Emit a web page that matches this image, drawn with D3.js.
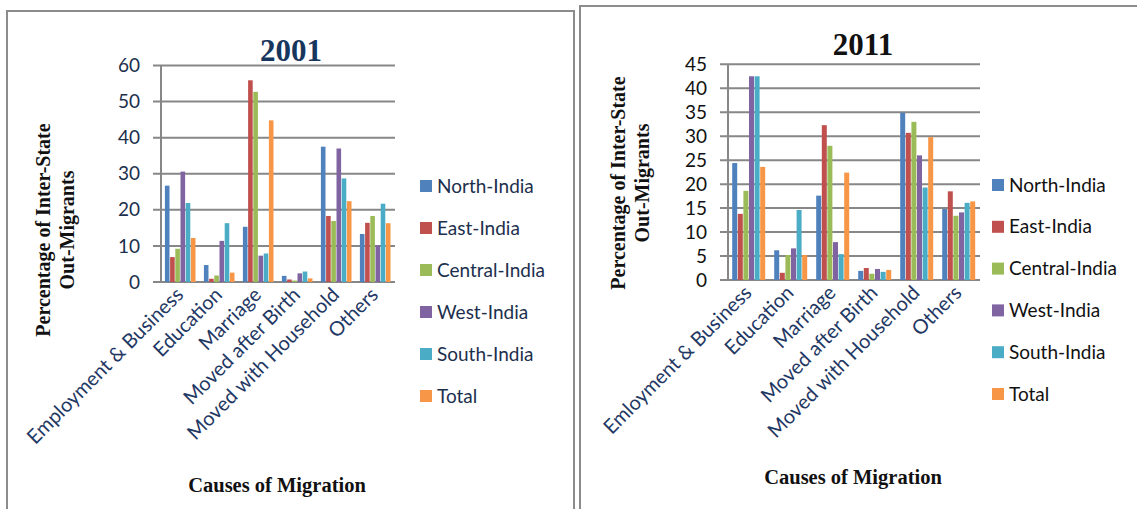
<!DOCTYPE html>
<html>
<head>
<meta charset="utf-8">
<script src="https://cdn.jsdelivr.net/npm/d3@7/dist/d3.min.js"></script>
<style>
  html, body { margin: 0; padding: 0; background: #fff; }
  svg { display: block; }
</style>
</head>
<body>
<svg id="chart" width="1137" height="509"></svg>
<script>
// Series (regions) shared by both census panels
const seriesNames = ["North-India", "East-India", "Central-India", "West-India", "South-India", "Total"];
const seriesColors = ["#4F81BD", "#C0504D", "#9BBB59", "#8064A2", "#4BACC6", "#F79646"];

// Causes of migration
const causes2001 = ["Employment & Business", "Education", "Marriage", "Moved after Birth", "Moved with Household", "Others"];
const causes2011 = ["Emloyment & Business", "Education", "Marriage", "Moved after Birth", "Moved with Household", "Others"];

// Percentage of inter-state out-migrants, 2001 (one array per region)
const north2001   = [26.7, 4.7, 15.3, 1.7, 37.5, 13.3];
const east2001    = [6.9, 0.9, 55.9, 0.7, 18.3, 16.4];
const central2001 = [9.2, 1.8, 52.7, 0.4, 16.9, 18.3];
const west2001    = [30.6, 11.4, 7.3, 2.4, 37.0, 10.2];
const south2001   = [21.9, 16.3, 7.9, 2.9, 28.7, 21.7];
const total2001   = [12.2, 2.6, 44.8, 1.0, 22.4, 16.3];

// Percentage of inter-state out-migrants, 2011
const north2011   = [24.4, 6.2, 17.6, 1.9, 34.9, 14.8];
const east2011    = [13.8, 1.5, 32.3, 2.5, 30.7, 18.5];
const central2011 = [18.6, 5.2, 28.0, 1.3, 33.0, 13.4];
const west2011    = [42.5, 6.6, 7.9, 2.3, 26.0, 14.1];
const south2011   = [42.5, 14.6, 5.4, 1.7, 19.3, 16.1];
const total2011   = [23.6, 5.2, 22.4, 2.1, 29.8, 16.4];

// Axis ticks
const ticks2001 = [0, 10, 20, 30, 40, 50, 60];
const ticks2011 = [0, 5, 10, 15, 20, 25, 30, 35, 40, 45];

const svg = d3.select("#chart");
const GRID = "#878787";
const SANS = "Lato, 'Open Sans', sans-serif";
const SERIF = "'Liberation Serif', 'Times New Roman', serif";

// Panel frames
svg.append("rect").attr("x", 7).attr("y", 11).attr("width", 567).attr("height", 540)
  .attr("fill", "none").attr("stroke", "#8c8c8c").attr("stroke-width", 2);
svg.append("rect").attr("x", 580).attr("y", 6).attr("width", 600).attr("height", 540)
  .attr("fill", "none").attr("stroke", "#8c8c8c").attr("stroke-width", 2);

function drawPanel(p) {
  const g = svg.append("g");
  const series = [p.north, p.east, p.central, p.west, p.south, p.total];

  const x = d3.scaleBand().domain(p.causes).range([p.left, p.right])
    .paddingInner(0.2).paddingOuter(0.1);
  const xs = d3.scaleBand().domain(d3.range(seriesNames.length)).range([0, x.bandwidth()]);
  const y = d3.scaleLinear().domain([0, p.max]).range([p.bottom, p.top]);

  // horizontal gridlines with left tick stubs
  g.append("g").selectAll("line").data(p.ticks).join("line")
    .attr("x1", p.left - 8).attr("x2", p.right)
    .attr("y1", d => y(d)).attr("y2", d => y(d))
    .attr("stroke", GRID).attr("stroke-width", 2);

  // value axis line + labels
  g.append("line").attr("x1", p.left).attr("x2", p.left)
    .attr("y1", y(p.max)).attr("y2", y(0))
    .attr("stroke", GRID).attr("stroke-width", 2);

  const yAxis = d3.axisLeft(y).tickValues(p.ticks).tickSize(0).tickPadding(p.tickPad);
  const ya = g.append("g").attr("transform", `translate(${p.left},0)`).call(yAxis);
  ya.select(".domain").remove();
  ya.selectAll("text").attr("font-family", SANS).attr("font-size", p.tickSize)
    .attr("fill", p.textColor);

  // bars
  seriesNames.forEach((name, si) => {
    g.append("g").selectAll("rect").data(series[si]).join("rect")
      .attr("x", (d, i) => x(p.causes[i]) + xs(si))
      .attr("width", xs.bandwidth() - 0.6)
      .attr("y", d => y(d))
      .attr("height", d => y(0) - y(d))
      .attr("fill", seriesColors[si]);
  });

  // rotated category labels
  g.append("g").selectAll("text").data(p.causes).join("text")
    .attr("transform", d => `translate(${x(d) + x.bandwidth() / 2 + p.catDx},${p.bottom + p.catDy}) rotate(-45)`)
    .attr("text-anchor", "end")
    .attr("font-family", SANS).attr("font-size", 20)
    .attr("fill", "#1F3864")
    .text(d => d);

  // title
  g.append("text").attr("x", p.titleX).attr("y", p.titleY)
    .attr("text-anchor", "middle").attr("font-family", SERIF)
    .attr("font-weight", "bold").attr("font-size", 31)
    .attr("fill", p.titleColor).text(p.title);

  // value axis title (two lines)
  const yt = g.append("text")
    .attr("transform", `translate(${p.yTitleX},${p.yTitleY}) rotate(-90)`)
    .attr("text-anchor", "middle").attr("font-family", SERIF)
    .attr("font-weight", "bold").attr("font-size", 20).attr("fill", "#111");
  yt.append("tspan").attr("x", 0).attr("dy", 0).text("Percentage of Inter-State");
  yt.append("tspan").attr("x", 0).attr("dy", 24).text("Out-Migrants");

  // category axis title
  g.append("text").attr("x", p.xTitleX).attr("y", p.xTitleY)
    .attr("text-anchor", "middle").attr("font-family", SERIF)
    .attr("font-weight", "bold").attr("font-size", 20.5).attr("fill", "#111")
    .text("Causes of Migration");

  // legend
  const lg = g.append("g").selectAll("g").data(seriesNames).join("g")
    .attr("transform", (d, i) => `translate(${p.legendX},${p.legendY + i * p.legendStep})`);
  lg.append("rect").attr("x", 0).attr("y", -6).attr("width", 12).attr("height", 12)
    .attr("fill", (d, i) => seriesColors[i]);
  lg.append("text").attr("x", 17).attr("y", 0).attr("dy", "0.35em")
    .attr("font-family", SANS).attr("font-size", 19)
    .attr("fill", p.textColor).text(d => d);
}

drawPanel({
  title: "2001", titleX: 291, titleY: 61, titleColor: "#17365D",
  causes: causes2001,
  north: north2001, east: east2001, central: central2001,
  west: west2001, south: south2001, total: total2001,
  ticks: ticks2001, max: 60,
  left: 161, right: 395, top: 65.5, bottom: 282,
  tickPad: 21, tickSize: 19, textColor: "#1c2f4d",
  catDx: 4, catDy: 14,
  yTitleX: 50, yTitleY: 230,
  xTitleX: 277, xTitleY: 492,
  legendX: 420, legendY: 186, legendStep: 42
});

drawPanel({
  title: "2011", titleX: 863, titleY: 55, titleColor: "#111",
  causes: causes2011,
  north: north2011, east: east2011, central: central2011,
  west: west2011, south: south2011, total: total2011,
  ticks: ticks2011, max: 45,
  left: 728, right: 980, top: 64.3, bottom: 280,
  tickPad: 21, tickSize: 19, textColor: "#111",
  catDx: 4, catDy: 14,
  yTitleX: 625, yTitleY: 183,
  xTitleX: 853, xTitleY: 484,
  legendX: 992, legendY: 185, legendStep: 41.8
});
</script>
</body>
</html>
